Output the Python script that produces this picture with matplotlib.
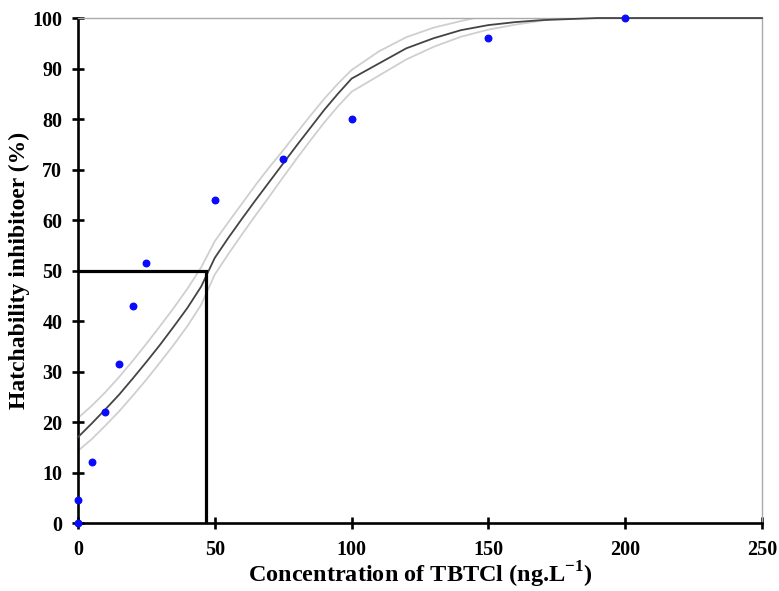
import matplotlib
matplotlib.use('Agg')
import matplotlib.pyplot as plt
import numpy as np

plt.rcParams['font.family'] = 'Liberation Serif'
plt.rcParams['font.weight'] = 'bold'
plt.rcParams['mathtext.fontset'] = 'custom'
plt.rcParams['mathtext.rm'] = 'Liberation Serif:bold'

# observed points
conc = [0, 0, 5, 10, 15, 20, 25, 50, 75, 100, 150, 200]
inhib = [0, 4.5, 12, 22, 31.5, 43, 51.5, 64, 72, 80, 96, 100]

# fitted curve
x_fit = [0, 5, 10, 15, 20, 25, 30, 35, 40, 45, 50, 55, 60, 65, 70, 75, 80, 85, 90, 95,
         100, 110, 120, 130, 140, 150, 160, 170, 180, 190, 200, 250]
y_fit = [17, 19.7, 22.5, 25.4, 28.6, 31.9, 35.3, 38.9, 42.6, 46.8, 52.5, 56.5, 60.3, 64.0, 67.6, 71.2, 74.8, 78.3, 81.8, 85.0,
         88.0, 91.0, 94.0, 96.0, 97.6, 98.6, 99.2, 99.6, 99.8, 100, 100, 100]

# confidence band
x_up = [0, 5, 10, 15, 20, 25, 30, 35, 40, 45, 50, 55, 60, 65, 70, 75, 80, 85, 90, 95, 100, 110, 120, 130, 140, 145]
y_up = [20.8, 23.2, 25.9, 28.9, 32.1, 35.5, 39.0, 42.6, 46.4, 50.6, 55.8, 59.6, 63.3, 67.0, 70.5, 73.8, 77.3, 80.7, 84.0, 87.0,
        89.7, 93.4, 96.2, 98.1, 99.4, 100]
x_lo = [0, 5, 10, 15, 20, 25, 30, 35, 40, 45, 50, 55, 60, 65, 70, 75, 80, 85, 90, 95, 100, 110, 120, 130, 140, 150, 160, 170, 175]
y_lo = [14.3, 16.6, 19.3, 22.1, 25.2, 28.4, 31.8, 35.3, 39.0, 43.2, 49.2, 53.3, 57.2, 61.0, 64.7, 68.5, 72.2, 75.8, 79.3, 82.5,
        85.4, 88.6, 91.8, 94.3, 96.3, 97.7, 98.7, 99.5, 100]

lc50 = 46.8

fig = plt.figure(figsize=(7.79, 5.91), dpi=100)
ax = fig.add_axes([0.1001, 0.115, 0.878, 0.8545])

ax.plot(x_up, y_up, c='#cfcfcf', lw=1.3)
ax.plot(x_lo, y_lo, c='#cfcfcf', lw=1.3)
ax.plot(x_fit, y_fit, c='#444444', lw=1.3, clip_on=False, zorder=3)
ax.plot([0, lc50, lc50], [50, 50, 0], c='black', lw=2.3, solid_joinstyle='miter', zorder=3)
ax.scatter(conc, inhib, s=22, c='#0a0aff', zorder=5, clip_on=False)

ax.set_xlim(0, 250)
ax.set_ylim(0, 100)
ax.set_xticks(np.arange(0, 251, 50))
ax.set_yticks(np.arange(0, 101, 10))

for s in ['left', 'bottom']:
    ax.spines[s].set_linewidth(1.9)
    ax.spines[s].set_color('black')
for s in ['top', 'right']:
    ax.spines[s].set_linewidth(1.0)
    ax.spines[s].set_color('#aaaaaa')

ax.tick_params(direction='inout', length=8.5, width=1.9, labelsize=14.5)
ax.tick_params(axis='y', pad=7)
ax.tick_params(axis='x', pad=8)

ax.set_xlabel(r'Concentration of TBTCl (ng.L$^{\mathrm{-1}}$)', fontsize=17.5, fontweight='bold', labelpad=0)
ax.set_ylabel('Hatchability inhibitoer (%)', fontsize=17, fontweight='bold', labelpad=2)

fig.savefig('out.png', dpi=100)
